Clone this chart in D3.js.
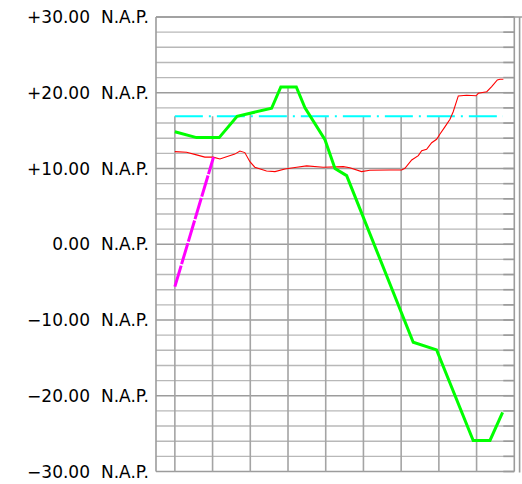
<!DOCTYPE html>
<html><head><meta charset="utf-8">
<script src="https://cdn.jsdelivr.net/npm/d3@7"></script>
<style>html,body{margin:0;padding:0;background:#fff;}svg{display:block;}</style>
</head><body>
<script>
// ---- data ----
const stations = [0, 20, 40, 60, 80, 100, 120, 140, 160, 180];
const yTickValues = [30, 20, 10, 0, -10, -20, -30];
const yTickLabels = ["+30.00", "+20.00", "+10.00", "0.00", "\u221210.00", "\u221220.00", "\u221230.00"];
const unitLabel = "N.A.P.";

const greenX = [0, 11.5, 23.5, 33, 51.3, 56.2, 64.4, 69, 79.6, 84.9, 91.1, 126.4, 138.8, 158.2, 167.1, 173.8];
const greenY = [14.86, 14.08, 14.08, 16.9, 17.95, 20.76, 20.76, 18.0, 13.8, 10.0, 9.06, -12.93, -13.94, -25.9, -25.9, -22.2];

const redX = [0, 6.2, 11.5, 15.9, 20.3, 23.9, 27.4, 31.8, 34.5, 37.1, 39.8, 42.4, 48.6, 53.1, 58.4, 64.6, 69.9, 78.7, 89.3, 92.8, 99.0, 103.4, 114.1, 120.3, 122.0, 125.6, 129.1, 130.9, 133.5, 136.2, 138.8, 140.6, 143.2, 145.9, 147.6, 150.3, 154.7, 159.7, 160.9, 165.4, 168.0, 171.0, 172.4, 174.2];
const redY = [12.23, 12.15, 11.8, 11.5, 11.5, 11.26, 11.56, 11.9, 12.3, 12.1, 10.9, 10.17, 9.68, 9.59, 9.94, 10.17, 10.34, 10.17, 10.25, 10.1, 9.59, 9.77, 9.81, 9.81, 10.03, 11.13, 11.7, 12.35, 12.54, 13.4, 13.86, 14.56, 15.5, 16.5, 17.5, 19.58, 19.67, 19.6, 19.93, 20.14, 20.8, 21.69, 21.78, 21.78];

const magentaX = [0, 20.5];
const magentaY = [-5.6, 11.5];

const cyanX = [0, 174];
const cyanY = [16.9, 16.9];

// ---- chart ----
const W = 522, H = 484;
const svg = d3.select("body").append("svg").attr("width", W).attr("height", H);

const x = d3.scaleLinear().domain([-10, 180]).range([156, 514.3]);
const y = d3.scaleLinear().domain([-30, 30]).range([471.5, 17]);

const xL = x.range()[0], xR = x.range()[1];
const gridVals = d3.range(-30, 31, 2);

// horizontal grid lines
svg.append("g").selectAll("line").data(gridVals).join("line")
  .attr("x1", xL).attr("x2", xR)
  .attr("y1", d => y(d)).attr("y2", d => y(d))
  .attr("stroke", d => d % 10 === 0 ? "#9c9c9c" : "#b8b8b8")
  .attr("stroke-width", 1.4);

// right side short ticks
svg.append("g").selectAll("line").data(gridVals).join("line")
  .attr("x1", xR - 11).attr("x2", xR)
  .attr("y1", d => y(d)).attr("y2", d => y(d))
  .attr("stroke", "#9a9a9a").attr("stroke-width", 1.6);

// series helpers
const series = [
  {xs: cyanX, ys: cyanY},
  {xs: redX, ys: redY},
  {xs: magentaX, ys: magentaY},
  {xs: greenX, ys: greenY}
];
function interp(xs, ys, v) {
  if (v < xs[0] || v > xs[xs.length - 1]) return null;
  for (let i = 0; i < xs.length - 1; i++) {
    if (v >= xs[i] && v <= xs[i + 1]) {
      const t = (v - xs[i]) / (xs[i + 1] - xs[i]);
      return ys[i] + t * (ys[i + 1] - ys[i]);
    }
  }
  return null;
}
// station vertical lines from top of profile down to bottom
const inner = stations.slice(0, stations.length - 1);
svg.append("g").selectAll("line").data(inner).join("line")
  .attr("x1", d => x(d)).attr("x2", d => x(d))
  .attr("y1", d => {
    const vals = series.map(s => interp(s.xs, s.ys, d)).filter(v => v !== null);
    return y(d3.max(vals));
  })
  .attr("y2", y(-30))
  .attr("stroke", "#a4a4a4").attr("stroke-width", 1.6);

// frame
svg.append("line").attr("x1", xL).attr("x2", xL).attr("y1", y(30)).attr("y2", y(-30))
  .attr("stroke", "#9c9c9c").attr("stroke-width", 1.6);
svg.append("line").attr("x1", xL).attr("x2", 522).attr("y1", y(30)).attr("y2", y(30))
  .attr("stroke", "#9c9c9c").attr("stroke-width", 1.6);
svg.append("line").attr("x1", x(180)).attr("x2", x(180)).attr("y1", y(30)).attr("y2", y(-30))
  .attr("stroke", "#9c9c9c").attr("stroke-width", 1.6);
svg.append("line").attr("x1", x(180) + 5.3).attr("x2", x(180) + 5.3).attr("y1", y(30)).attr("y2", y(-30) + 1)
  .attr("stroke", "#9c9c9c").attr("stroke-width", 1.6);

const line = d3.line().x(d => x(d[0])).y(d => y(d[1]));
const pts = (xs, ys) => xs.map((v, i) => [v, ys[i]]);

svg.append("path").attr("d", line(pts(cyanX, cyanY)))
  .attr("fill", "none").attr("stroke", "#00ffff").attr("stroke-width", 2)
  .attr("stroke-dasharray", "28,6,2,6");

svg.append("path").attr("d", line(pts(redX, redY)))
  .attr("fill", "none").attr("stroke", "#ff0000").attr("stroke-width", 1.1);

svg.append("path").attr("d", line(pts(magentaX, magentaY)))
  .attr("fill", "none").attr("stroke", "#ff00ff").attr("stroke-width", 3)
  .attr("stroke-dasharray", "22,1.5");

svg.append("path").attr("d", line(pts(greenX, greenY)))
  .attr("fill", "none").attr("stroke", "#00ff00").attr("stroke-width", 3)
  .attr("stroke-linejoin", "miter");

// y labels
const lab = svg.append("g").attr("font-family", "DejaVu Sans, sans-serif").attr("font-size", 17).attr("fill", "#000");
lab.selectAll("text.num").data(yTickValues).join("text").attr("class", "num")
  .attr("x", 90).attr("y", d => y(d)).attr("dy", "0.36em").attr("text-anchor", "end")
  .text((d, i) => yTickLabels[i]);
lab.selectAll("text.unit").data(yTickValues).join("text").attr("class", "unit")
  .attr("x", 101).attr("y", d => y(d)).attr("dy", "0.36em").attr("text-anchor", "start")
  .text(unitLabel);
</script>
</body></html>
